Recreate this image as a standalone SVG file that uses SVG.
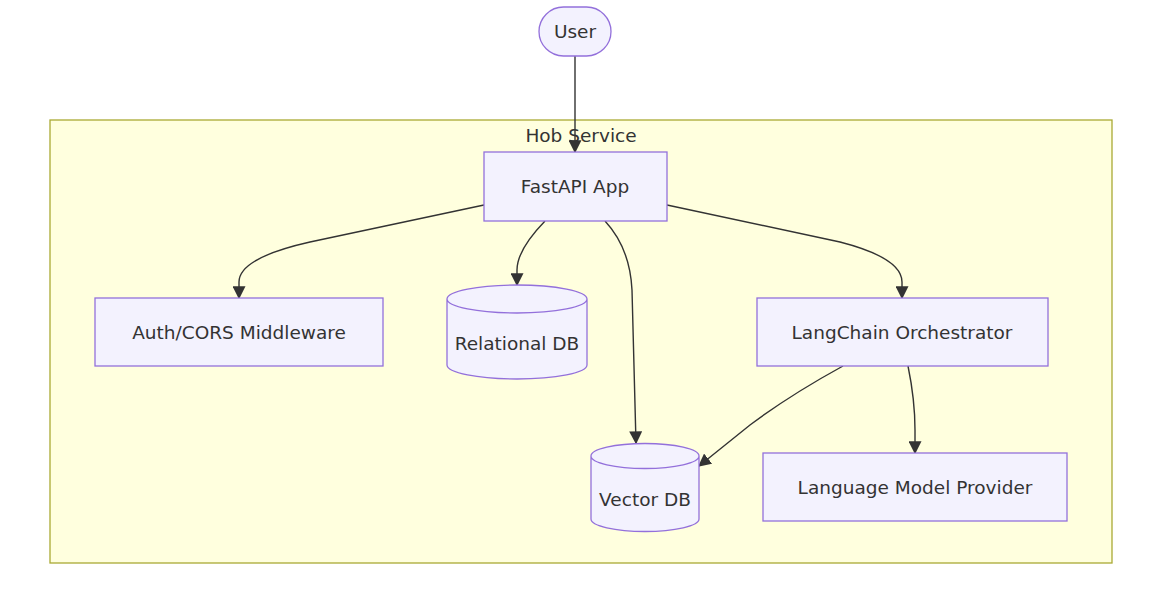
<svg xmlns="http://www.w3.org/2000/svg" width="1166" height="616" viewBox="0 0 1166 616">
<style>
.node rect, .node path.shape { fill: #f3f2fe; stroke: #9370db; stroke-width: 1.3; }
.lbl { font-family: "DejaVu Sans", Verdana, sans-serif; font-size: 18.5px; fill: #333; text-anchor: middle; dominant-baseline: central; }
.edge { fill: none; stroke: #333; stroke-width: 1.4; }
</style>
<defs>
<marker id="arr" viewBox="0 0 10 10" refX="9" refY="5" markerUnits="userSpaceOnUse" markerWidth="13" markerHeight="13" orient="auto">
<path d="M0,0 L10,5 L0,10 z" fill="#333"/>
</marker>
</defs>
<rect width="1166" height="616" fill="#ffffff"/>
<g id="cluster-hob">
<rect x="50" y="120" width="1062" height="443" fill="#ffffde" stroke="#aaaa33" stroke-width="1.3"/>
<text class="lbl" x="581" y="135">Hob Service</text>
</g>
<g id="connectors">
<path class="edge" marker-end="url(#arr)" d="M575,56 L575,152"/>
<path class="edge" marker-end="url(#arr)" d="M484,205 L310,242 Q239,258 239,282 L239,298"/>
<path class="edge" marker-end="url(#arr)" d="M545,221 Q517,250 517,270 L517,285"/>
<path class="edge" marker-end="url(#arr)" d="M605,221 Q630,248 632,290 L636,443"/>
<path class="edge" marker-end="url(#arr)" d="M667,205 L840,242 Q902,258 902,282 L902,298"/>
<path class="edge" marker-end="url(#arr)" d="M843,366 Q790,395 750,425 L699,466"/>
<path class="edge" marker-end="url(#arr)" d="M908,366 Q915,400 915,430 L915,453"/>
</g>
<g id="node-user" class="node">
<rect x="539" y="7" width="72" height="49" rx="24.5" ry="24.5"/>
<text class="lbl" x="575" y="31">User</text>
</g>
<g id="node-fastapi" class="node">
<rect x="484" y="152" width="183" height="69"/>
<text class="lbl" x="575" y="186">FastAPI App</text>
</g>
<g id="node-auth" class="node">
<rect x="95" y="298" width="288" height="68"/>
<text class="lbl" x="239" y="332">Auth/CORS Middleware</text>
</g>
<g id="node-reldb" class="node">
<path class="shape" d="M447,299 a70,14 0 0 0 140,0 a70,14 0 0 0 -140,0 l0,66 a70,14 0 0 0 140,0 l0,-66"/>
<text class="lbl" x="517" y="343">Relational DB</text>
</g>
<g id="node-langchain" class="node">
<rect x="757" y="298" width="291" height="68"/>
<text class="lbl" x="902" y="332">LangChain Orchestrator</text>
</g>
<g id="node-vectordb" class="node">
<path class="shape" d="M591,456 a54,12.5 0 0 0 108,0 a54,12.5 0 0 0 -108,0 l0,63 a54,12.5 0 0 0 108,0 l0,-63"/>
<text class="lbl" x="645" y="499">Vector DB</text>
</g>
<g id="node-llm" class="node">
<rect x="763" y="453" width="304" height="68"/>
<text class="lbl" x="915" y="487">Language Model Provider</text>
</g>
</svg>
